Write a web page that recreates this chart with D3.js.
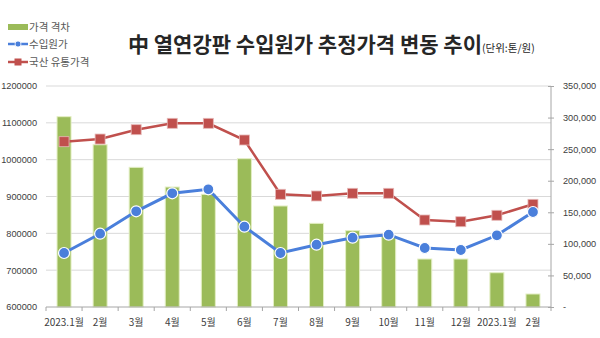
<!DOCTYPE html>
<html><head><meta charset="utf-8">
<script src="https://cdn.jsdelivr.net/npm/d3@7"></script>
<style>body{margin:0;background:#fff;} svg{display:block;font-family:"Noto Sans CJK KR","Noto Sans",sans-serif;}</style>
</head><body><svg id="c" width="600" height="338"></svg>
<script>
const categories = ["2023.1월","2월","3월","4월","5월","6월","7월","8월","9월","10월","11월","12월","2023.1월","2월"];
const importCost = [746600,799000,859800,908700,919600,818000,746600,769100,788100,796300,760200,754800,794700,857900];
const domesticPrice = [1048800,1056000,1081400,1098700,1098700,1053400,906000,901400,908700,908700,836200,831600,849000,878800];
const priceGap = [301400,257000,221200,190000,178500,234900,160000,132500,120900,112400,76000,76000,54300,20600];
const leftTicks = [600000,700000,800000,900000,1000000,1100000,1200000];
const rightTicks = [0,50000,100000,150000,200000,250000,300000,350000];
const seriesNames = ["가격 격차","수입원가","국산 유통가격"];

const svg = d3.select("#c");
const L = 46, R = 551, T = 86, B = 307;
const x = d3.scaleBand().domain(d3.range(categories.length)).range([L, R]);
const yL = d3.scaleLinear().domain([600000,1200000]).range([B, T]);
const yR = d3.scaleLinear().domain([0,350000]).range([B, T]);
const green = "#9BBB59", red = "#C0504D", blue = "#4A7FDB";
const txt = "#404040";
const numFont = "'Liberation Sans',Arial,sans-serif";

// gridlines
svg.append("g").selectAll("line").data(leftTicks.slice(1)).join("line")
  .attr("x1", L).attr("x2", R).attr("y1", d=>yL(d)).attr("y2", d=>yL(d))
  .attr("stroke", "#d9d9d9").attr("stroke-width", 1);

// bars
const bw = 14;
svg.append("g").selectAll("rect").data(priceGap).join("rect")
  .attr("x", (d,i)=>x(i)+x.bandwidth()/2-bw/2).attr("width", bw)
  .attr("y", d=>yR(d)).attr("height", d=>B-yR(d))
  .attr("fill", green).attr("stroke", "#E4EFC4").attr("stroke-width", 1);

// left axis
const gl = svg.append("g").attr("transform", `translate(${L},0)`)
  .call(d3.axisLeft(yL).tickValues(leftTicks).tickFormat(d3.format("d")).tickSize(0).tickPadding(9));
gl.select(".domain").remove();
gl.selectAll("text").attr("fill", txt).style("font-size","9.2px").style("font-family",numFont);

// right axis
const gr = svg.append("g").attr("transform", `translate(${R},0)`)
  .call(d3.axisRight(yR).tickValues(rightTicks).tickFormat(d=>d===0?"-":d3.format(",")(d)).tickSize(4).tickPadding(8));
gr.select(".domain").attr("stroke", "#a6a6a6").attr("d", `M0,${T}V${B}`);
gr.selectAll(".tick line").attr("stroke", "#a6a6a6").attr("x1",-3).attr("x2",3);
gr.selectAll("text").attr("fill", txt).style("font-size","9.2px").style("font-family",numFont);

// x axis
svg.append("line").attr("x1", L).attr("x2", R).attr("y1", B).attr("y2", B).attr("stroke", "#a6a6a6");
svg.append("g").selectAll("line").data(d3.range(categories.length+1)).join("line")
  .attr("x1", i=>L+i*x.bandwidth()).attr("x2", i=>L+i*x.bandwidth())
  .attr("y1", B).attr("y2", B+4).attr("stroke", "#a6a6a6");
svg.append("g").selectAll("text").data(categories).join("text")
  .attr("x", (d,i)=>x(i)+x.bandwidth()/2).attr("y", 326).attr("text-anchor","middle")
  .attr("fill", txt).style("font-size","10px").text(d=>d);

// lines
const lineGen = yS => d3.line().x((d,i)=>x(i)+x.bandwidth()/2).y(d=>yS(d));
svg.append("path").datum(domesticPrice).attr("d", lineGen(yL)).attr("fill","none").attr("stroke", red).attr("stroke-width", 2.5);
svg.append("g").selectAll("rect").data(domesticPrice).join("rect")
  .attr("x",(d,i)=>x(i)+x.bandwidth()/2-5).attr("y", d=>yL(d)-5).attr("width",10).attr("height",10)
  .attr("fill", red).attr("stroke","#E6B8B7").attr("stroke-width",0.8);
svg.append("path").datum(importCost).attr("d", lineGen(yL)).attr("fill","none").attr("stroke", blue).attr("stroke-width", 3);
svg.append("g").selectAll("circle").data(importCost).join("circle")
  .attr("cx",(d,i)=>x(i)+x.bandwidth()/2).attr("cy", d=>yL(d)).attr("r",5.5)
  .attr("fill", blue).attr("stroke","#fff").attr("stroke-width",1.2);

// title
const title = svg.append("text").attr("x", 128).attr("y", 52).attr("fill", "#262626");
title.append("tspan").style("font-size","21px").style("font-weight","bold").text("中 열연강판 수입원가 추정가격 변동 추이");
title.append("tspan").style("font-size","10.5px").attr("dx", 0).text("(단위:톤/원)");

// legend
const lg = svg.append("g");
const ly = [27, 44, 62];
lg.append("rect").attr("x", 8).attr("y", ly[0]-3).attr("width", 20).attr("height", 6).attr("fill", green);
lg.append("line").attr("x1",8).attr("x2",28).attr("y1",ly[1]).attr("y2",ly[1]).attr("stroke",blue).attr("stroke-width",2.5);
lg.append("circle").attr("cx",18).attr("cy",ly[1]).attr("r",3).attr("fill",blue).attr("stroke","#fff").attr("stroke-width",0.8);
lg.append("line").attr("x1",8).attr("x2",28).attr("y1",ly[2]).attr("y2",ly[2]).attr("stroke",red).attr("stroke-width",2.5);
lg.append("rect").attr("x",14.5).attr("y",ly[2]-3.5).attr("width",7).attr("height",7).attr("fill",red);
lg.selectAll("text").data(seriesNames).join("text")
  .attr("x", 29).attr("y", (d,i)=>ly[i]+4).attr("fill", "#595959").style("font-size","10.5px").text(d=>d);
</script></body></html>
